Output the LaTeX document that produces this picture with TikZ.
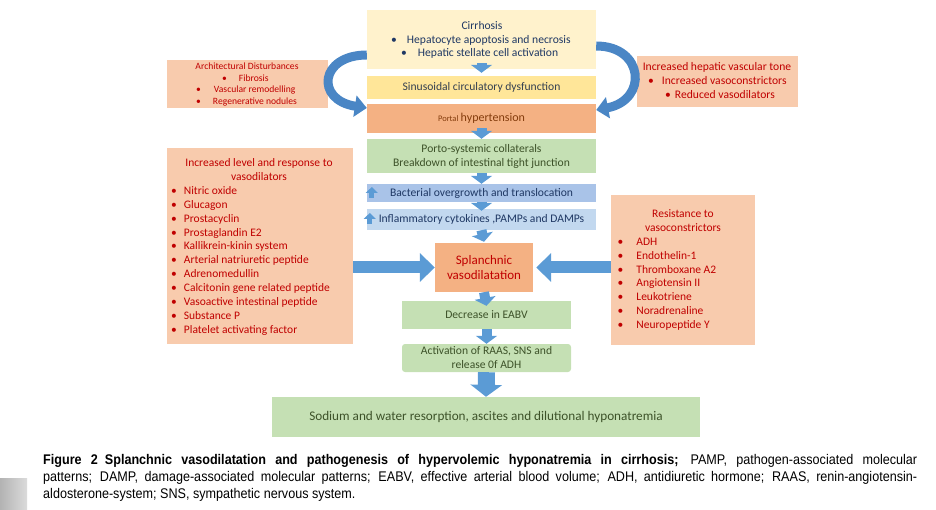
\documentclass[tikz,border=0pt]{standalone}
\usepackage{fontspec}
\setmainfont{Carlito}
\newfontfamily\capfont[FakeStretch=0.9]{Liberation Sans}
\usetikzlibrary{arrows.meta}
\definecolor{cream}{HTML}{FFF2CC}
\definecolor{yel}{HTML}{FFE699}
\definecolor{orng}{HTML}{F4B183}
\definecolor{salmon}{HTML}{F8CBAD}
\definecolor{grn}{HTML}{C5E0B4}
\definecolor{bluea}{HTML}{A9C3E8}
\definecolor{blueb}{HTML}{C2D8EF}
\definecolor{arrblue}{HTML}{5B9BD5}
\definecolor{curvblue}{HTML}{4A86C5}
\definecolor{redtxt}{HTML}{C00000}
\definecolor{navy}{HTML}{1F3864}
\definecolor{sintxt}{HTML}{333F50}
\definecolor{brown}{HTML}{843C0C}
\definecolor{grntxt}{HTML}{3D5229}
\begin{document}
\begin{tikzpicture}[x=1pt,y=-1pt,
  box/.style={draw=none,inner sep=0pt,align=center},
  txt/.style={inner sep=0pt,text height=0.7em,text depth=0.2em},
  downarr/.style={draw=arrblue,line width=10pt,-{Triangle[width=21pt,length=8pt]}},
  bigarr/.style={draw=arrblue,line width=17pt,-{Triangle[width=31pt,length=12pt]}},
  sidearr/.style={draw=arrblue,line width=12pt,-{Triangle[width=28pt,length=15pt]}},
  curvarr/.style={draw=curvblue,line width=9pt,-{Triangle[width=21pt,length=12pt]}},
  uparr/.style={draw=arrblue,line width=5pt,-{Triangle[width=12pt,length=6pt]}},
  fa/.style={font=\fontsize{11.6pt}{14pt}\selectfont},
  fb/.style={font=\fontsize{11.5pt}{13.9pt}\selectfont},
  fc/.style={font=\fontsize{9.6pt}{11.5pt}\selectfont},
  fd/.style={font=\fontsize{11.6pt}{14pt}\selectfont}
]
\useasboundingbox (0,0) rectangle (936,510);

% central column boxes
\node[box,fill=cream,minimum width=229pt,minimum height=59pt] (cirr) at (481.5,39.5) {};
\node[txt,fa,text=navy] (cirrt) at (482,27) {Cirrhosis};
\node[txt,fa,text=navy,anchor=west] (cirr1) at (391,41) {•\hspace{10pt}Hepatocyte apoptosis and necrosis};
\node[txt,fa,text=navy,anchor=west] (cirr2) at (401,54) {•\hspace{11pt}Hepatic stellate cell activation};

\node[box,fill=yel,minimum width=229pt,minimum height=23pt,fa,text=sintxt] (sinus) at (481.5,87.5) {Sinusoidal circulatory dysfunction};
\node[box,fill=orng,minimum width=229pt,minimum height=29pt,text=brown] (portal) at (481.5,118.5) {{\fontsize{8.5pt}{10pt}\selectfont Portal} {\fontsize{12pt}{13pt}\selectfont hypertension}};
\node[box,fill=grn,minimum width=229pt,minimum height=34pt,fa,text=grntxt] (porto) at (481.5,156) {Porto-systemic collaterals\\Breakdown of intestinal tight junction};
\node[box,fill=bluea,minimum width=229pt,minimum height=18pt,fa,text=navy] (bact) at (481.5,193) {Bacterial overgrowth and translocation};
\node[box,fill=blueb,minimum width=229pt,minimum height=21pt,fa,text=navy] (infl) at (481.5,219.5) {Inflammatory cytokines ,PAMPs and DAMPs};
\node[box,fill=orng,minimum width=98pt,minimum height=49pt,text=redtxt,font=\fontsize{13pt}{15pt}\selectfont] (splan) at (484,267.5) {Splanchnic\\vasodilatation};
\node[box,fill=grn,minimum width=169pt,minimum height=28pt,fa,text=grntxt] (dec) at (486.5,315) {Decrease in EABV};
\node[box,fill=grn,rounded corners=3pt,minimum width=169pt,minimum height=28pt,fa,text=grntxt] (act) at (486.5,358) {Activation of RAAS, SNS and\\release 0f ADH};
\node[box,fill=grn,minimum width=428pt,minimum height=40pt,text=grntxt,font=\fontsize{13.2pt}{15pt}\selectfont] (sodium) at (486,417) {Sodium and water resorption, ascites and dilutional hyponatremia};

% side boxes
\node[box,fill=salmon,minimum width=161pt,minimum height=48pt] (arch) at (247.5,84) {};
\node[txt,fc,text=redtxt] (archt) at (247,67) {Architectural Disturbances};
\node[txt,fc,text=redtxt,anchor=west] (arch1) at (222,79) {•\hspace{12pt}Fibrosis};
\node[txt,fc,text=redtxt,anchor=west] (arch2) at (196,90.5) {•\hspace{13pt}Vascular remodelling};
\node[txt,fc,text=redtxt,anchor=west] (arch3) at (196,102) {•\hspace{12pt}Regenerative nodules};

\node[box,fill=salmon,minimum width=161pt,minimum height=51pt] (tone) at (717.5,81.5) {};
\node[txt,fd,text=redtxt] (tonet) at (717,68) {Increased hepatic vascular tone};
\node[txt,fd,text=redtxt,anchor=west] (tone1) at (648,82.5) {•\hspace{8pt}Increased vasoconstrictors};
\node[txt,fd,text=redtxt,anchor=west] (tone2) at (665,96.5) {•\hspace{4pt}Reduced vasodilators};

\node[box,fill=salmon,minimum width=186pt,minimum height=196pt] (vdil) at (260,246) {};
\node[txt,fb,text=redtxt] (vdilt1) at (259,164.5) {Increased level and response to};
\node[txt,fb,text=redtxt] (vdilt2) at (259,178) {vasodilators};
\foreach \t [count=\i] in {Nitric oxide,Glucagon,Prostacyclin,Prostaglandin E2,Kallikrein-kinin system,Arterial natriuretic peptide,Adrenomedullin,Calcitonin gene related peptide,Vasoactive intestinal peptide,Substance P,Platelet activating factor}
  \node[txt,fb,text=redtxt,anchor=west] (vd\i) at (171,178+13.9*\i) {•\hspace{7pt}\t};

\node[box,fill=salmon,minimum width=144pt,minimum height=150pt] (vcon) at (683,270) {};
\node[txt,fb,text=redtxt] (vcont1) at (683,215) {Resistance to};
\node[txt,fb,text=redtxt] (vcont2) at (683,229) {vasoconstrictors};
\foreach \t [count=\i] in {ADH,Endothelin-1,Thromboxane A2,Angiotensin II,Leukotriene,Noradrenaline,Neuropeptide Y}
  \node[txt,fb,text=redtxt,anchor=west] (vc\i) at (617.5,229+13.85*\i) {•\hspace{13pt}\t};

% arrows down the centre
\draw[downarr] ([yshift=6pt]cirr.south) -- ([yshift=3pt]sinus.north);
\draw[downarr] ([yshift=5pt]portal.south) -- (porto.north);
\draw[downarr] (porto.south) -- (bact.north);
\draw[downarr] (bact.south) -- ([yshift=-2pt]infl.north);
\draw[downarr] (infl.south) -- ([yshift=1pt]splan.north);
\draw[downarr] (splan.south) -- ([yshift=-5pt]dec.north);
\draw[downarr] (dec.south) -- (act.north);
\draw[bigarr] (act.south) -- (sodium.north);

% side arrows
\draw[sidearr] (vdil.east |- splan.west) -- (splan.west);
\draw[sidearr] (vcon.west |- splan.east) -- ([xshift=3pt]splan.east);

% curved arrows
\draw[curvarr] ([yshift=-15.5pt]cirr.west) .. controls +(-47,0) and +(-52,-8) .. ([yshift=10.5pt]portal.west);
\draw[curvarr] ([yshift=-6.5pt]cirr.east) .. controls +(48,0) and +(52,-10) .. ([yshift=8.5pt]portal.east);

% small up arrows
\draw[uparr] ([xshift=5pt,yshift=-5pt]bact.west) -- ([xshift=5pt,yshift=6pt]bact.west);
\draw[uparr] ([xshift=3pt,yshift=-4.5pt]infl.west) -- ([xshift=3pt,yshift=6.5pt]infl.west);

% caption
\node[inner sep=0pt,left color=black!30,right color=black!14,minimum width=27pt,minimum height=32pt] (graybar) at (13.5,494) {};
\node[anchor=base west,inner sep=0pt,font=\capfont\fontsize{14pt}{17pt}\selectfont] (cap1) at (43,464) {\makebox[874pt][s]{\textbf{Figure 2\enspace Splanchnic vasodilatation and pathogenesis of hypervolemic hyponatremia in cirrhosis;} PAMP, pathogen-associated molecular}};
\node[anchor=base west,inner sep=0pt,font=\capfont\fontsize{14pt}{17pt}\selectfont] (cap2) at (43,481) {\makebox[874pt][s]{patterns; DAMP, damage-associated molecular patterns; EABV, effective arterial blood volume; ADH, antidiuretic hormone; RAAS, renin-angiotensin-}};
\node[anchor=base west,inner sep=0pt,font=\capfont\fontsize{14pt}{17pt}\selectfont] (cap3) at (43,498) {aldosterone-system; SNS, sympathetic nervous system.};
\end{tikzpicture}
\end{document}
